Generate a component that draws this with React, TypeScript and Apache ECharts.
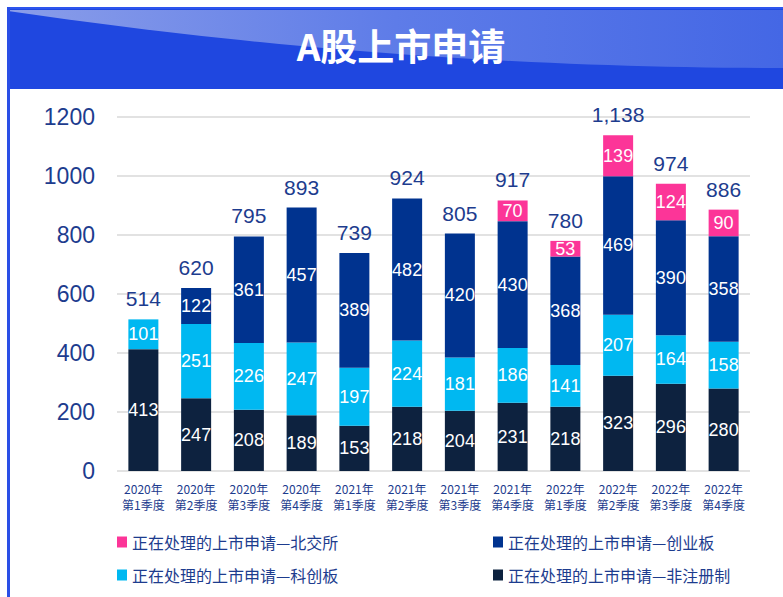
import React, { useEffect, useRef } from "react";
import * as echarts from "echarts";

const categories = [
  "2020年\n第1季度", "2020年\n第2季度", "2020年\n第3季度", "2020年\n第4季度",
  "2021年\n第1季度", "2021年\n第2季度", "2021年\n第3季度", "2021年\n第4季度",
  "2022年\n第1季度", "2022年\n第2季度", "2022年\n第3季度", "2022年\n第4季度",
];
const nonRegistration = [413, 247, 208, 189, 153, 218, 204, 231, 218, 323, 296, 280];
const starMarket = [101, 251, 226, 247, 197, 224, 181, 186, 141, 207, 164, 158];
const chinext = [null, 122, 361, 457, 389, 482, 420, 430, 368, 469, 390, 358];
const bse = [null, null, null, null, null, null, null, 70, 53, 139, 124, 90];
const totals = [514, 620, 795, 893, 739, 924, 805, 917, 780, 1138, 974, 886];
const yTicks = [0, 200, 400, 600, 800, 1000, 1200];

const names = {
  bse: "正在处理的上市申请—北交所",
  chinext: "正在处理的上市申请—创业板",
  star: "正在处理的上市申请—科创板",
  non: "正在处理的上市申请—非注册制",
};

const NUM_FONT = "'Liberation Sans', Arial, sans-serif";
const CJK_FONT = "'Noto Sans CJK SC', 'Liberation Sans', sans-serif";
const AXIS_BLUE = "#1d3c8e";

function wavePoints(): number[][] {
  const pts: number[][] = [[8, 10], [783, 10]];
  for (let i = 0; i <= 40; i++) {
    const t = 1 - i / 40;
    const x = 8 + 775 * t;
    const y = 11 + 57 * (1 - (1 - t) * (1 - t));
    pts.push([x, y]);
  }
  return pts;
}

export default function App() {
  const ref = useRef<HTMLDivElement>(null);
  useEffect(() => {
    if (!ref.current) return;
    const chart = echarts.init(ref.current, undefined, { renderer: "svg" });
    const segLabel = {
      show: true,
      position: "inside",
      color: "#ffffff",
      fontSize: 18,
      fontFamily: NUM_FONT,
    };
    const option = {
      animation: false,
      backgroundColor: "#ffffff",
      title: {
        text: "A股上市申请",
        left: 396,
        top: 21,
        textAlign: "center",
        textStyle: {
          color: "#ffffff",
          fontSize: 37,
          fontWeight: "bold",
          fontFamily: CJK_FONT,
        },
        z: 10,
      },
      graphic: [
        {
          type: "rect",
          shape: { x: 8, y: 7, width: 775, height: 82 },
          style: { fill: "#1f47e0" },
          z: 0,
          silent: true,
        },
        {
          type: "polygon",
          shape: { points: wavePoints() },
          style: {
            fill: new echarts.graphic.LinearGradient(0, 0, 1, 0, [
              { offset: 0, color: "#8a9de9" },
              { offset: 0.5, color: "#5e7ce8" },
              { offset: 1, color: "#4467e5" },
            ]),
          },
          z: 1,
          silent: true,
        },
        {
          type: "rect",
          shape: { x: 8, y: 7, width: 775, height: 2 },
          style: { fill: "#2d55ee" },
          z: 2,
          silent: true,
        },
        {
          type: "rect",
          shape: { x: 7, y: 7, width: 3, height: 590 },
          style: { fill: "#2a4fe6" },
          z: 2,
          silent: true,
        },
      ],
      legend: [
        {
          left: 112,
          top: 529,
          orient: "vertical",
          itemGap: 17,
          itemWidth: 10,
          itemHeight: 11,
          icon: "rect",
          data: [names.bse, names.star],
          textStyle: { fontSize: 16, color: AXIS_BLUE, fontFamily: CJK_FONT },
          selectedMode: false,
        },
        {
          left: 488,
          top: 529,
          orient: "vertical",
          itemGap: 17,
          itemWidth: 10,
          itemHeight: 11,
          icon: "rect",
          data: [names.chinext, names.non],
          textStyle: { fontSize: 16, color: AXIS_BLUE, fontFamily: CJK_FONT },
          selectedMode: false,
        },
      ],
      grid: { left: 117, right: 33, top: 117, bottom: 126 },
      xAxis: {
        type: "category",
        data: categories,
        axisLine: { show: false },
        axisTick: { show: false },
        axisLabel: {
          color: AXIS_BLUE,
          fontSize: 12,
          lineHeight: 16,
          margin: 9,
          fontFamily: CJK_FONT,
          interval: 0,
        },
      },
      yAxis: {
        type: "value",
        min: yTicks[0],
        max: yTicks[yTicks.length - 1],
        interval: 200,
        axisLine: { show: false },
        axisTick: { show: false },
        axisLabel: {
          color: AXIS_BLUE,
          fontSize: 23,
          margin: 22,
          fontFamily: NUM_FONT,
          formatter: (v: number) => String(v),
        },
        splitLine: { lineStyle: { color: "#d9d9d9", width: 1.5 } },
      },
      series: [
        {
          name: names.non,
          type: "bar",
          stack: "total",
          barWidth: 30,
          data: nonRegistration,
          itemStyle: { color: "#0d223f" },
          label: segLabel,
        },
        {
          name: names.star,
          type: "bar",
          stack: "total",
          barWidth: 30,
          data: starMarket,
          itemStyle: { color: "#00b8f1" },
          label: segLabel,
        },
        {
          name: names.chinext,
          type: "bar",
          stack: "total",
          barWidth: 30,
          data: chinext,
          itemStyle: { color: "#00338f" },
          label: segLabel,
        },
        {
          name: names.bse,
          type: "bar",
          stack: "total",
          barWidth: 30,
          data: bse,
          itemStyle: { color: "#fc3598" },
          label: segLabel,
        },
        {
          name: "合计",
          type: "scatter",
          data: totals,
          symbolSize: 2,
          itemStyle: { color: "rgba(0,0,0,0)", opacity: 1 },
          silent: true,
          label: {
            show: true,
            position: "top",
            distance: 9,
            color: AXIS_BLUE,
            fontSize: 21,
            fontFamily: NUM_FONT,
            formatter: (p: any) => Number(p.value).toLocaleString("en-US"),
          },
          z: 5,
        },
      ],
    };
    chart.setOption(option as any);
    return () => chart.dispose();
  }, []);
  return (
    <div
      ref={ref}
      style={{ position: "fixed", left: 0, top: 0, width: 783, height: 597 }}
    />
  );
}
